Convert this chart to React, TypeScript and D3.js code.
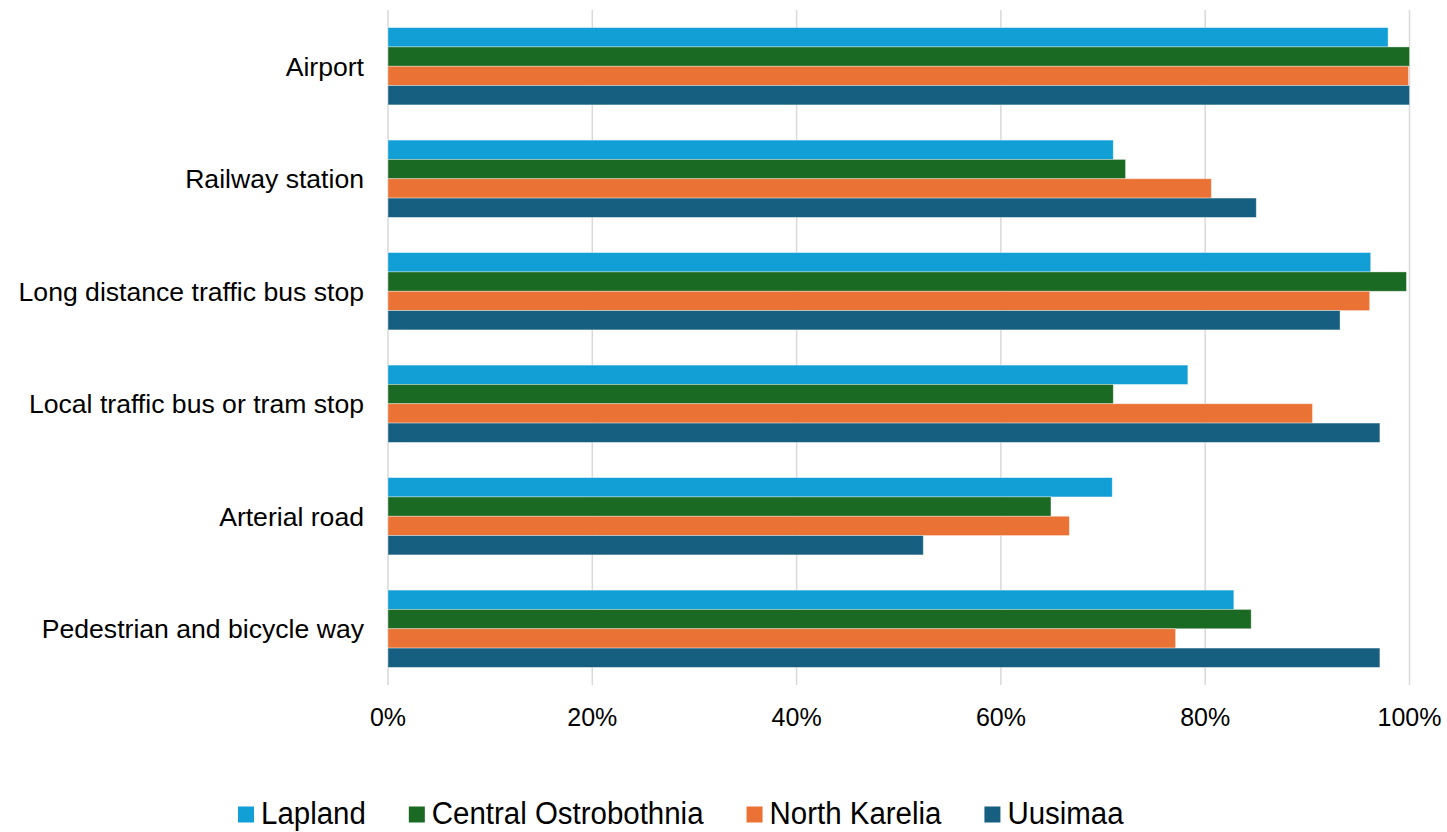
import * as d3 from 'd3'
import { useMemo } from 'react'

const categories = [
  'Airport',
  'Railway station',
  'Long distance traffic bus stop',
  'Local traffic bus or tram stop',
  'Arterial road',
  'Pedestrian and bicycle way',
]

const seriesNames = ['Lapland', 'Central Ostrobothnia', 'North Karelia', 'Uusimaa']
const seriesColors = ['#129fd6', '#1b6a24', '#e97234', '#165f80']

const lapland = [0.979, 0.71, 0.962, 0.783, 0.709, 0.828]
const centralOstrobothnia = [1.0, 0.722, 0.997, 0.71, 0.649, 0.845]
const northKarelia = [0.999, 0.806, 0.961, 0.905, 0.667, 0.771]
const uusimaa = [1.0, 0.85, 0.932, 0.971, 0.524, 0.971]

const seriesValues = [lapland, centralOstrobothnia, northKarelia, uusimaa]
const xTickValues = [0, 0.2, 0.4, 0.6, 0.8, 1]

const FONT = "'Liberation Sans', Arial, sans-serif"

function measure(text: string, size: number) {
  const canvas = document.createElement('canvas')
  const ctx = canvas.getContext('2d')
  if (!ctx) return text.length * size * 0.5
  ctx.font = `${size}px ${FONT}`
  return ctx.measureText(text).width
}

export default function App() {
  const width = 1447
  const height = 832
  const plot = { left: 388, right: 1409.5, top: 10, bottom: 685 }

  const x = d3.scaleLinear().domain([0, 1]).range([plot.left, plot.right])
  const y = d3
    .scaleBand<string>()
    .domain(categories)
    .range([plot.top, plot.bottom])
    .paddingInner(0.313)
    .paddingOuter(0.1565)
  const inner = d3.scaleBand<string>().domain(seriesNames).range([0, y.bandwidth()]).padding(0)

  // legend text in the original is a touch condensed, so squeeze it a little
  const legendFont = 31
  const squeeze = 0.95
  const legendItems = useMemo(() => {
    let cursor = 238
    return seriesNames.map((name, i) => {
      const textWidth = measure(name, legendFont) * squeeze
      const item = { name, color: seriesColors[i], x: cursor, textWidth }
      cursor += 16 + 8 + textWidth + 42
      return item
    })
  }, [])

  return (
    <svg
      width={width}
      height={height}
      viewBox={`0 0 ${width} ${height}`}
      style={{ position: 'fixed', top: 0, left: 0, background: '#fff' }}
      fontFamily={FONT}
    >
      {xTickValues.map((tick) => (
        <g key={tick} transform={`translate(${x(tick)},0)`}>
          <line y1={plot.top} y2={plot.bottom} stroke="#d9d9d9" strokeWidth="1.5" />
          <text y={726} textAnchor="middle" fontSize="25" fill="#000">
            {d3.format('.0%')(tick)}
          </text>
        </g>
      ))}

      {categories.map((cat, ci) => {
        const bandY = y(cat) ?? 0
        return (
          <g key={cat} transform={`translate(0,${bandY})`}>
            <text
              x={364}
              y={y.bandwidth() / 2}
              dy="0.35em"
              textAnchor="end"
              fontSize="26.6"
              fill="#000"
            >
              {cat}
            </text>
            {seriesNames.map((name, si) => {
              const value = seriesValues[si][ci]
              return (
                <rect
                  key={name}
                  x={x(0)}
                  y={inner(name) ?? 0}
                  width={x(value) - x(0)}
                  height={inner.bandwidth()}
                  fill={seriesColors[si]}
                  stroke="rgba(255,255,255,0.45)"
                  strokeWidth="0.8"
                />
              )
            })}
          </g>
        )
      })}

      {legendItems.map((item) => (
        <g key={item.name} transform={`translate(${item.x},0)`}>
          <rect x={0} y={806.5} width={16} height={16} fill={item.color} />
          <text
            x={23}
            y={824}
            fontSize={legendFont}
            fill="#000"
            textLength={item.textWidth}
            lengthAdjust="spacingAndGlyphs"
          >
            {item.name}
          </text>
        </g>
      ))}
    </svg>
  )
}
